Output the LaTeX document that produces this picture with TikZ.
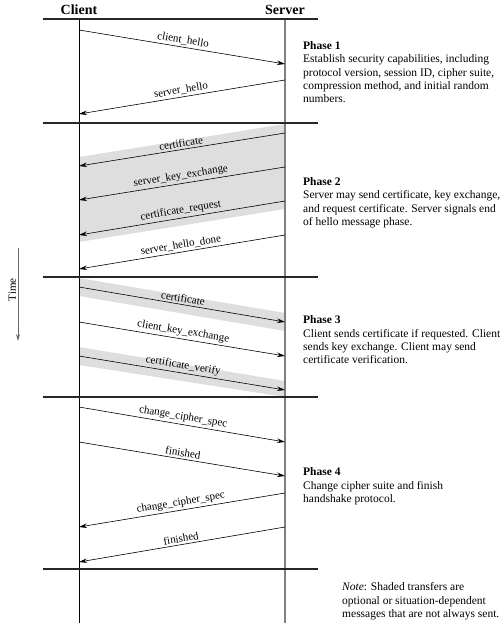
\documentclass[tikz,border=0pt]{standalone}
\usepackage{fontspec}
\setmainfont{Liberation Serif}
\usetikzlibrary{arrows.meta}

\begin{document}
\begin{tikzpicture}[
    x=1pt, y=-1pt,
    hdr/.style={font=\fontsize{14}{16}\selectfont\bfseries},
    life/.style={line width=0.7pt, draw=black},
    srvlife/.style={line width=1.2pt, draw=black!50},
    sep/.style={line width=1.1pt, draw=black!85},
    msg/.style={-{Stealth[length=8pt,width=4.5pt]}, line width=0.6pt, draw=black},
    lbl/.style={midway, above, sloped, font=\fontsize{11}{13}\selectfont, inner sep=2pt},
    band/.style={fill=black!13},
    phase/.style={anchor=north west, inner sep=0pt, align=left,
                  font=\fontsize{11.5}{13.2}\selectfont},
    timeline/.style={-{Stealth[length=7pt,width=4pt]}, line width=0.8pt, draw=black!60}
]
\useasboundingbox (0,0) rectangle (500,623);

% shaded transfers
\fill[band] (79,157) -- (285,124) -- (285,209) -- (79,242) -- cycle;
\fill[band] (79,278) -- (285,313) -- (285,331) -- (79,296) -- cycle;
\fill[band] (79,347) -- (285,381) -- (285,397) -- (79,365) -- cycle;

% header and lifelines
\node[hdr] (client) at (79,10) {Client};
\node[hdr] (server) at (285,10) {Server};
\coordinate (ctop) at (79,19);
\coordinate (cbot) at (79,623);
\coordinate (stop) at (285,19);
\coordinate (sbot) at (285,623);
\draw[life] (ctop) -- (cbot);
\draw[srvlife] (stop) -- (sbot);

% phase separators
\foreach \y [count=\i] in {19,123,277,397,569} {
  \coordinate (h\i w) at (43,\y);
  \coordinate (h\i e) at (318,\y);
  \draw[sep] (h\i w) -- (h\i e);
}

% phase 1
\coordinate (c1) at (79,30);   \coordinate (s1) at (285,64);
\coordinate (s2) at (285,80);  \coordinate (c2) at (79,114);
\draw[msg] (c1) -- node[lbl] {client\_hello} (s1);
\draw[msg] (s2) -- node[lbl] {server\_hello} (c2);

% phase 2
\coordinate (s3) at (285,133); \coordinate (c3) at (79,166);
\coordinate (s4) at (285,167); \coordinate (c4) at (79,200);
\coordinate (s5) at (285,201); \coordinate (c5) at (79,235);
\coordinate (s6) at (285,235); \coordinate (c6) at (79,269);
\draw[msg] (s3) -- node[lbl] {certificate} (c3);
\draw[msg] (s4) -- node[lbl] {server\_key\_exchange} (c4);
\draw[msg] (s5) -- node[lbl] {certificate\_request} (c5);
\draw[msg] (s6) -- node[lbl] {server\_hello\_done} (c6);

% phase 3
\coordinate (c7) at (79,287);  \coordinate (s7) at (285,322);
\coordinate (c8) at (79,322);  \coordinate (s8) at (285,356);
\coordinate (c9) at (79,356);  \coordinate (s9) at (285,390);
\draw[msg] (c7) -- node[lbl] {certificate} (s7);
\draw[msg] (c8) -- node[lbl] {client\_key\_exchange} (s8);
\draw[msg] (c9) -- node[lbl] {certificate\_verify} (s9);

% phase 4
\coordinate (c10) at (79,407); \coordinate (s10) at (285,442);
\coordinate (c11) at (79,442); \coordinate (s11) at (285,476);
\coordinate (s12) at (285,493); \coordinate (c12) at (79,527);
\coordinate (s13) at (285,527); \coordinate (c13) at (79,562);
\draw[msg] (c10) -- node[lbl] {change\_cipher\_spec} (s10);
\draw[msg] (c11) -- node[lbl] {finished} (s11);
\draw[msg] (s12) -- node[lbl] {change\_cipher\_spec} (c12);
\draw[msg] (s13) -- node[lbl] {finished} (c13);

% time axis
\coordinate (t0) at (18,248);
\coordinate (t1) at (18,341);
\draw[timeline] (t0) -- node[pos=0.45, rotate=90, anchor=south, inner sep=1.5pt,
      font=\fontsize{11}{13}\selectfont] (time) {Time} (t1);

% phase descriptions
\node[phase] (p1) at (303,41.5) {\textbf{Phase 1}\\
  Establish security capabilities, including\\
  protocol version, session ID, cipher suite,\\
  compression method, and initial random\\
  numbers.};
\node[phase] (p2) at (303,177.6) {\textbf{Phase 2}\\
  Server may send certificate, key exchange,\\
  and request certificate. Server signals end\\
  of hello message phase.};
\node[phase] (p3) at (303,315.8) {\textbf{Phase 3}\\
  Client sends certificate if requested. Client\\
  sends key exchange. Client may send\\
  certificate verification.};
\node[phase] (p4) at (303,467.8) {\textbf{Phase 4}\\
  Change cipher suite and finish\\
  handshake protocol.};
\node[phase] (note) at (342,582.6) {\textit{Note}: Shaded transfers are\\
  optional or situation-dependent\\
  messages that are not always sent.};
\end{tikzpicture}
\end{document}
